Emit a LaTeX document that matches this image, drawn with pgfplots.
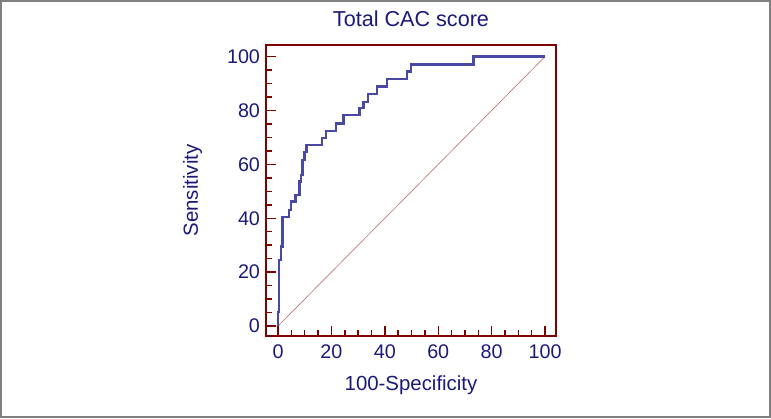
\documentclass[border=0pt]{standalone}
\usepackage{pgfplots}
\pgfplotsset{compat=1.18}
\usepackage{fontspec}
\setmainfont{Liberation Sans}
\definecolor{navy}{RGB}{26,26,120}
\definecolor{darkred}{RGB}{128,0,0}
\definecolor{curveblue}{RGB}{72,72,165}
\definecolor{diagred}{RGB}{190,120,120}
\definecolor{framegray}{RGB}{128,128,128}
\begin{document}
\begin{tikzpicture}
\useasboundingbox (0,0) rectangle (578.25pt,313.5pt);
\draw[framegray, line width=1.2pt] (0.6pt,0.6pt) rectangle (577.65pt,312.9pt);
\begin{axis}[
  at={(199.5pt,61.5pt)}, anchor=south west,
  scale only axis, width=217.5pt, height=218.25pt,
  xmin=-4.5, xmax=104.1, ymin=-3.7, ymax=104.3,
  xtick={0,20,...,100}, ytick={0,20,...,100},
  minor tick num=3,
  xtick pos=left, ytick pos=left, tick align=inside,
  major tick length=7.5pt, minor tick length=4.5pt,
  every tick/.style={darkred, line width=1.1pt},
  axis line style={darkred, line width=1.1pt},
  /pgf/number format/assume math mode=true,
  tick label style={font=\fontsize{14.8}{16}\selectfont, text=navy},
  xticklabel style={yshift=-3pt},
  yticklabel style={xshift=-1pt},
  title={Total CAC score},
  title style={at={(axis description cs:0.5,1)}, anchor=base, yshift=8pt, font=\fontsize{16.2}{18}\selectfont, text=navy},
  xlabel={100-Specificity},
  xlabel style={at={(axis description cs:0.5,0)}, anchor=base, yshift=-40.5pt, font=\fontsize{15.3}{18}\selectfont, text=navy},
  ylabel={Sensitivity},
  ylabel style={at={(axis description cs:-0.2345,0.5)}, anchor=base, font=\fontsize{15.3}{18}\selectfont, text=navy},
]
\addplot[diagred, line width=0.5pt] coordinates {(0,0) (100,100)};
\addplot[curveblue, line width=1.7pt, line join=miter] coordinates {
(0,0) (0,5.3) (0.4,5.3) (0.4,21.5) (0.5,21.5) (0.5,24.5) (1.1,24.5) (1.1,29.5)
(1.7,29.5) (1.7,40.6) (4.2,40.6) (4.2,43) (4.9,43) (4.9,46.2) (6.5,46.2) (6.5,48.6)
(8.0,48.6) (8.0,53.6) (8.6,53.6) (8.6,56) (9.2,56) (9.2,61.6) (9.9,61.6) (9.9,64.5)
(10.7,64.5) (10.7,67.3) (16.6,67.3) (16.6,69.7) (18,69.7) (18,72.5) (21.7,72.5)
(21.7,75.2) (24.5,75.2) (24.5,78.3) (30.5,78.3) (30.5,80.8) (32,80.8) (32,83.2)
(33.8,83.2) (33.8,86) (37,86) (37,88.9) (40.7,88.9) (40.7,91.8) (48.4,91.8)
(48.4,94.5) (49.7,94.5) (49.7,97.1) (73.2,97.1) (73.2,100) (100,100)
};
\end{axis}
\end{tikzpicture}
\end{document}
